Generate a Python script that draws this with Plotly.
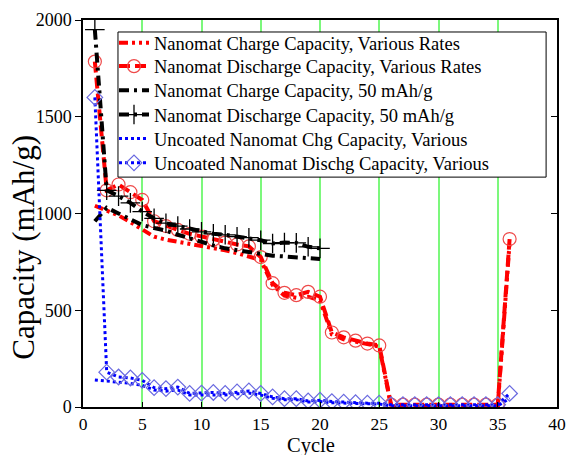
import plotly.graph_objects as go

cycles_various = list(range(1, 37))
cycles_50 = list(range(1, 21))

red_charge = [1040, 1015, 990, 955, 920, 880, 865, 855, 845, 835, 825, 810, 795, 780, 760,
              630, 575, 565, 570, 550, 375, 350, 335, 325, 312,
              5, 5, 5, 5, 5, 5, 5, 5, 5, 5, 850]
red_discharge = [1785, 1120, 1150, 1110, 1070, 960, 935, 915, 895, 880, 865, 850, 840, 830, 775,
                 640, 590, 578, 595, 570, 385, 360, 343, 328, 318,
                 12, 12, 12, 12, 12, 12, 12, 12, 12, 12, 868]
black_charge = [960, 1030, 1000, 970, 940, 925, 912, 890, 870, 850, 835, 820, 810, 800, 788,
                782, 778, 775, 768, 765]
black_discharge = [1950, 1120, 1090, 1055, 1010, 975, 950, 935, 920, 905, 895, 890, 880, 875, 862,
                   845, 850, 848, 828, 820]
blue_charge = [140, 135, 128, 122, 112, 88, 82, 88, 62, 62, 65, 62, 68, 72, 62,
               45, 38, 38, 26, 28, 22, 20, 18, 16, 15,
               6, 6, 6, 6, 6, 6, 6, 6, 6, 6, 45]
blue_discharge = [1600, 180, 155, 150, 138, 100, 95, 103, 70, 72, 75, 70, 78, 83, 70,
                  52, 43, 43, 31, 35, 28, 25, 22, 20, 20,
                  12, 12, 12, 12, 12, 12, 12, 12, 12, 12, 70]

names = [
    "Nanomat Charge Capacity, Various Rates",
    "Nanomat Discharge Capacity, Various Rates",
    "Nanomat Charge Capacity, 50 mAh/g",
    "Nanomat Discharge Capacity, 50 mAh/g",
    "Uncoated Nanomat Chg Capacity, Various",
    "Uncoated Nanomat Dischg Capacity, Various",
]
x_ticks = [0, 5, 10, 15, 20, 25, 30, 35, 40]
y_ticks = [0, 500, 1000, 1500, 2000]

FONT = "Times New Roman, Liberation Serif, serif"
LEG = ["legend", "legend2", "legend3", "legend4", "legend5", "legend6"]
fig = go.Figure()

fig.add_trace(go.Scatter(x=cycles_various, y=red_charge, name=names[0], mode="lines", legend=LEG[0],
                         line=dict(color="#ff0000", width=4, dash="9px,4px,3px,4px,3px,4px")))
fig.add_trace(go.Scatter(x=cycles_various, y=red_discharge, name=names[1], mode="lines+markers",
                         legend=LEG[1],
                         line=dict(color="#ff0000", width=4, dash="11px,5px"),
                         marker=dict(symbol="circle-open", size=13, color="#ee4a4a",
                                     line=dict(width=1.2, color="#ee4a4a"))))
fig.add_trace(go.Scatter(x=cycles_50, y=black_charge, name=names[2], mode="lines", legend=LEG[2],
                         line=dict(color="#000000", width=4, dash="10px,5px,3px,5px")))
fig.add_trace(go.Scatter(x=cycles_50, y=black_discharge, name=names[3], mode="lines+markers",
                         legend=LEG[3],
                         line=dict(color="#000000", width=4, dash="10px,5px,3px,5px"),
                         marker=dict(symbol="cross-thin-open", size=14, color="#000000",
                                     line=dict(width=1.3, color="#000000"))))
fig.add_trace(go.Scatter(x=cycles_various, y=blue_charge, name=names[4], mode="lines", legend=LEG[4],
                         line=dict(color="#0000ff", width=3, dash="dot")))
fig.add_trace(go.Scatter(x=cycles_various, y=blue_discharge, name=names[5], mode="lines+markers",
                         legend=LEG[5],
                         line=dict(color="#0000ff", width=3, dash="dot"),
                         marker=dict(symbol="diamond-open", size=12, color="#6a6ae0",
                                     line=dict(width=1.2, color="#6a6ae0"))))

# invisible trace to drive the right-side (inside) ticks
fig.add_trace(go.Scatter(x=[0], y=[0], yaxis="y2", mode="markers",
                         marker=dict(opacity=0), showlegend=False, hoverinfo="skip"))

row_y = [0.9398, 0.8796, 0.8175, 0.7545, 0.6925, 0.6297]
legends = {}
for key, yy in zip(LEG, row_y):
    legends[key] = dict(x=0.0654, y=yy, xanchor="left", yanchor="middle",
                        bgcolor="rgba(0,0,0,0)", borderwidth=0,
                        font=dict(family=FONT, size=18.5, color="black"),
                        itemwidth=30)

fig.update_layout(
    width=566, height=455,
    margin=dict(l=83, r=9, t=20, b=48),
    paper_bgcolor="white", plot_bgcolor="white",
    font=dict(family=FONT, color="black", size=18),
    showlegend=True,
    **legends,
    shapes=[dict(type="rect", xref="paper", yref="paper",
                 x0=0.0738, x1=0.977, y0=0.594, y1=0.969, layer="above",
                 fillcolor="white", line=dict(color="black", width=1))],
    xaxis=dict(range=[0, 40], tickvals=x_ticks, ticktext=[str(v) for v in x_ticks],
               showgrid=True, gridcolor="#7cf87c", gridwidth=1.5, automargin=False,
               zeroline=False, showline=True, linecolor="black", linewidth=1.5, mirror=True,
               ticks="inside", ticklen=5, tickcolor="black",
               tickfont=dict(family=FONT, size=17.5)),
    yaxis=dict(range=[0, 2000], tickvals=y_ticks, ticktext=[str(v) for v in y_ticks],
               showgrid=False, zeroline=False, showline=True, linecolor="black", linewidth=1.5,
               mirror=True, ticks="outside", ticklen=6, tickcolor="black", automargin=False,
               tickfont=dict(family=FONT, size=18)),
    yaxis2=dict(range=[0, 2000], tickvals=y_ticks, overlaying="y", side="right",
                showticklabels=False, ticks="inside", ticklen=6, tickcolor="black",
                showgrid=False, zeroline=False, showline=False, automargin=False),
    annotations=[
        dict(text="Cycle", xref="paper", yref="paper", x=0.48, y=-0.099,
             xanchor="center", yanchor="middle", showarrow=False,
             font=dict(family=FONT, size=20.5, color="black")),
        dict(text="Capacity (mAh/g)", xref="paper", yref="paper", x=-0.1255, y=0.413,
             xanchor="center", yanchor="middle", showarrow=False, textangle=-90,
             font=dict(family=FONT, size=31, color="black")),
    ],
)

fig.write_html("out.html", config={"displayModeBar": False},
               post_script="document.body.style.margin='0';document.body.style.overflow='hidden';")
